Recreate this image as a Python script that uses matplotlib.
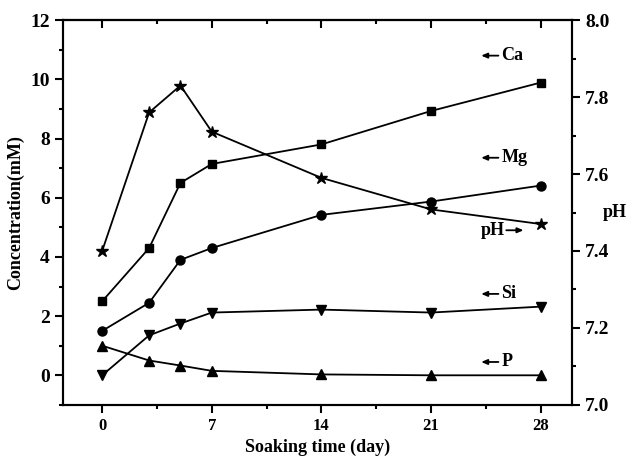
import matplotlib
matplotlib.use("Agg")
import matplotlib.pyplot as plt
from matplotlib.ticker import MultipleLocator

plt.rcParams["font.family"] = ["Liberation Serif", "DejaVu Serif"]
plt.rcParams["font.weight"] = "bold"

days = [0, 3, 5, 7, 14, 21, 28]
ca = [2.5, 4.3, 6.5, 7.14, 7.8, 8.93, 9.89]
mg = [1.5, 2.45, 3.9, 4.3, 5.42, 5.87, 6.41]
si = [0.0, 1.35, 1.75, 2.12, 2.22, 2.12, 2.32]
p = [1.0, 0.5, 0.33, 0.15, 0.03, 0.0, 0.0]
ph = [7.40, 7.76, 7.83, 7.71, 7.59, 7.508, 7.47]

# series labels with arrows pointing to their axis
left_labels = ["Ca", "Mg", "Si", "P"]
left_label_y = [10.8, 7.35, 2.75, 0.45]
ph_label_y = 4.9

fig = plt.figure(figsize=(6.3, 4.57), dpi=100)
ax = fig.add_axes([0.1, 0.114, 0.808, 0.842])
ax2 = ax.twinx()

lw = 1.3
ax.plot(days, ca, "k-", marker="s", ms=6, lw=lw)
ax.plot(days, mg, "k-", marker="o", ms=6.5, lw=lw)
ax.plot(days, si, "k-", marker="v", ms=7, lw=lw)
ax.plot(days, p, "k-", marker="^", ms=7, lw=lw)
ax2.plot(days, ph, "k-", marker="*", ms=9, lw=lw)

arrow = dict(arrowstyle="-|>,head_length=0.35,head_width=0.15", color="k", lw=1.3,
             shrinkA=0, shrinkB=0)
for lab, y in zip(left_labels, left_label_y):
    ax.annotate("", xy=(24.2, y), xytext=(25.3, y), arrowprops=arrow)
    ax.text(25.5, y, lab, fontsize=13, fontweight="bold", ha="left", va="center")
ax.text(24.2, ph_label_y, "pH", fontsize=13, fontweight="bold", ha="left", va="center")
ax.annotate("", xy=(26.9, ph_label_y), xytext=(25.8, ph_label_y), arrowprops=arrow)

ax.set_xlim(-2.5, 30)
ax.set_ylim(-1, 12)
ax2.set_ylim(7.0, 8.0)

ax.set_xticks([0, 7, 14, 21, 28])
ax.xaxis.set_minor_locator(MultipleLocator(3.5))
ax.yaxis.set_major_locator(MultipleLocator(2))
ax.yaxis.set_minor_locator(MultipleLocator(1))
ax2.yaxis.set_minor_locator(MultipleLocator(0.1))
ax2.set_yticks([7.0, 7.2, 7.4, 7.6, 7.8, 8.0])
ax2.set_yticklabels(["7.0", "7.2", "7.4", "7.6", "7.8", "8.0"])

ax.tick_params(axis="x", which="both", direction="out", bottom=True, top=False)
ax.tick_params(axis="x", which="major", length=6, width=1.5, labelsize=12)
ax.tick_params(axis="x", which="minor", length=3, width=1.5)
ax.tick_params(axis="y", which="major", direction="out", length=6, width=1.5, labelsize=14)
ax.tick_params(axis="y", which="minor", direction="out", length=3, width=1.5)
ax2.tick_params(axis="y", which="major", direction="out", length=6, width=1.5, labelsize=14)
ax2.tick_params(axis="y", which="minor", direction="out", length=3, width=1.5)

# inward ticks on the top edge
top = ax.secondary_xaxis("top")
top.set_xticks([0, 7, 14, 21, 28])
top.xaxis.set_minor_locator(MultipleLocator(3.5))
top.tick_params(axis="x", which="major", direction="in", length=6, width=1.5, labeltop=False)
top.tick_params(axis="x", which="minor", direction="in", length=3, width=1.5)
top.spines["top"].set_linewidth(1.5)

for a in (ax, ax2):
    for s in a.spines.values():
        s.set_linewidth(1.5)

ax.set_xlabel("Soaking time (day)", fontsize=13, fontweight="bold", labelpad=3)
ax.set_ylabel("Concentration(mM)", fontsize=13, fontweight="bold", labelpad=4)
ax2.set_ylabel("pH", fontsize=13, fontweight="bold", rotation=0, va="center", labelpad=4)

fig.savefig("out.png", dpi=100)
